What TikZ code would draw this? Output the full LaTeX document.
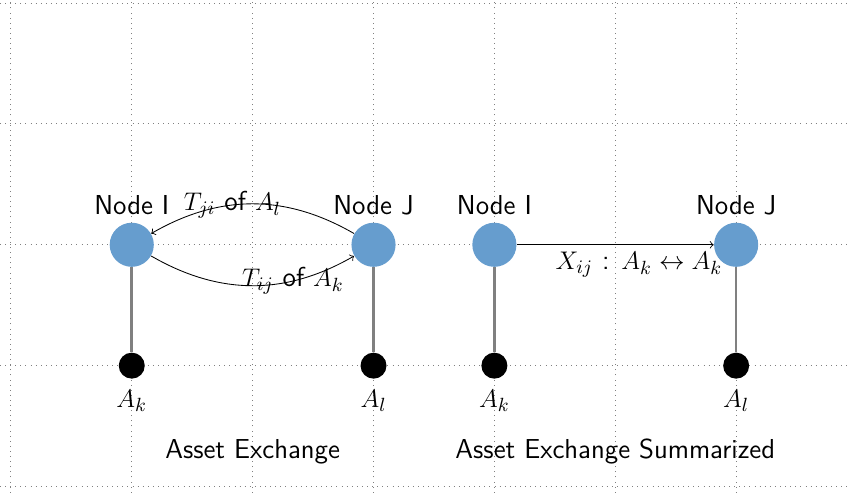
\documentclass[tikz,border=0pt]{standalone}
\usepackage{amsmath, amssymb}
\usepackage{tikz}
\usetikzlibrary{arrows.meta, positioning, calc}
\definecolor{agentblue}{RGB}{102,157,206}
\newcommand{\tagsize}{\fontsize{12.9pt}{15pt}\selectfont}

\begin{document}
\begin{tikzpicture}[
  x=2cm, y=2cm, >=to,
  agent/.style={circle, fill=agentblue, inner sep=0pt, minimum size=7.3mm, label={[font=\sffamily\tagsize]above:#1}},
  asset/.style={circle, fill=black, inner sep=0pt, minimum size=4.3mm, label={[font=\tagsize, label distance=1.5pt]below:#1}},
  hold/.style={draw=gray, very thick},
  trade/.style={draw, ->},
  tag/.style={font=\sffamily\tagsize}
  ]
  \useasboundingbox (-1.09,-2.05) rectangle (5.95,2.025);
  \draw[gray, dotted, step=1] (-1.09,-2.05) grid (5.95,2.025);
  \node[agent={Node I}] (i1) at (0,0) {};
  \node[agent={Node J}] (j1) at (2,0) {};
  \node[asset={$A_k$}] (ak1) at (0,-1) {};
  \node[asset={$A_l$}] (al1) at (2,-1) {};
  \node[agent={Node I}] (i2) at (3,0) {};
  \node[agent={Node J}] (j2) at (5,0) {};
  \node[asset={$A_k$}] (ak2) at (3,-1) {};
  \node[asset={$A_l$}] (al2) at (5,-1) {};
  \draw[hold] (i1) -- (ak1);
  \draw[hold] (j1) -- (al1);
  \draw[hold] (i2) -- (ak2);
  \draw[hold] (j2) -- (al2);
  \draw[trade] (j1) to[bend right=30] node[tag, pos=0.6] {$T_{ji}$ of $A_l$} (i1);
  \draw[trade] (i1) to[bend right=30] node[tag, pos=0.7] {$T_{ij}$ of $A_k$} (j1);
  \draw[trade] (i2) -- node[tag, below, pos=0.62] {$X_{ij}$ : $A_k \leftrightarrow A_k$} (j2);
  \node[tag] (ex1) at (1,-1.71) {Asset Exchange};
  \node[tag] (ex2) at (4,-1.71) {Asset Exchange Summarized};
\end{tikzpicture}
\end{document}
